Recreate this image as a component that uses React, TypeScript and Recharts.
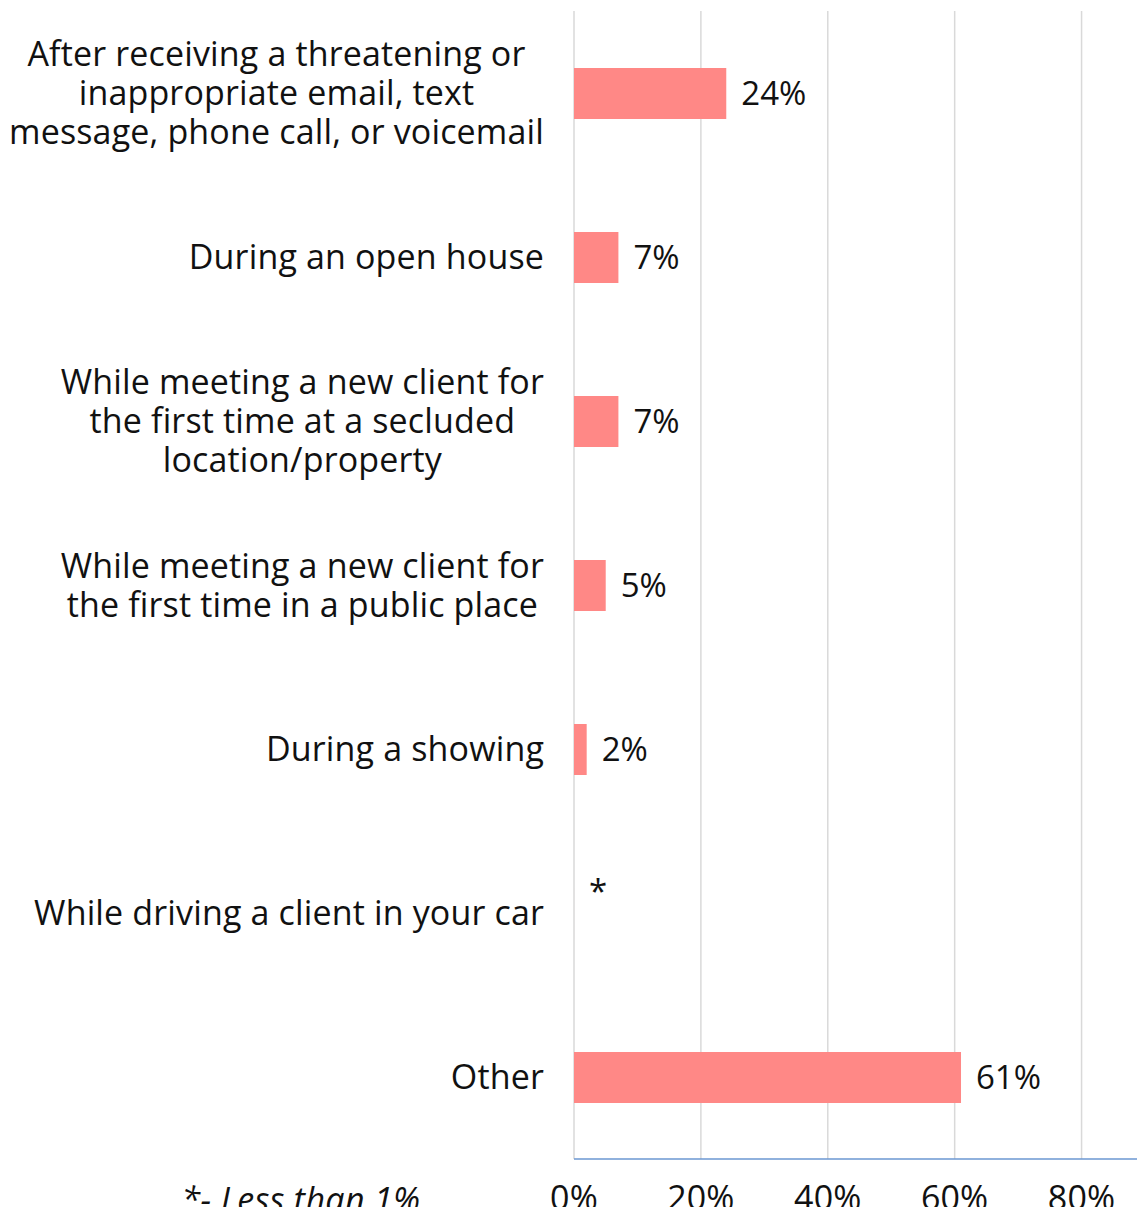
import { BarChart, Bar, XAxis, YAxis, CartesianGrid, LabelList } from 'recharts';

const categories = [
    'After receiving a threatening or\ninappropriate email, text\nmessage, phone call, or voicemail',
    'During an open house',
    'While meeting a new client for\nthe first time at a secluded\nlocation/property',
    'While meeting a new client for\nthe first time in a public place',
    'During a showing',
    'While driving a client in your car',
    'Other',
];
const values = [24, 7, 7, 5, 2, 0, 61];
const valueLabels = ['24%', '7%', '7%', '5%', '2%', '*', '61%'];
const xTicks = [0, 20, 40, 60, 80];

const FONT = '"Open Sans", sans-serif';
const FONT_SIZE = 34;
const SPACING = 0.15;
const BAR_COLOR = '#FF8886';
const TEXT = '#111111';

const chartData = categories.map((name, i) => ({ name, value: values[i], label: valueLabels[i] }));

let ctx: CanvasRenderingContext2D | null = null;
function textWidth(s: string) {
    if (!ctx) {
        ctx = document.createElement('canvas').getContext('2d');
    }
    if (!ctx) return s.length * FONT_SIZE * 0.55;
    ctx.font = `${FONT_SIZE}px "Open Sans"`;
    return ctx.measureText(s).width + s.length * SPACING;
}

// multi-line labels are centred as a block, the block's right edge sits near the axis
function CategoryTick(props: any) {
    const { x, y, payload } = props;
    const lines: string[] = String(payload.value).split('\n');
    const lineHeight = 39;
    const maxW = Math.max(...lines.map(textWidth));
    const cx = Math.max(x - maxW / 2, maxW / 2 + 2);
    const startY = y - ((lines.length - 1) * lineHeight) / 2;
    return (
        <text
            x={cx}
            y={startY}
            textAnchor="middle"
            fontFamily={FONT}
            fontSize={FONT_SIZE}
            letterSpacing={SPACING}
            fill={TEXT}
        >
            {lines.map((line, i) => (
                <tspan key={i} x={cx} y={startY + i * lineHeight} dy="0.36em">
                    {line}
                </tspan>
            ))}
        </text>
    );
}

function PercentTick(props: any) {
    const { x, y, payload } = props;
    return (
        <text x={x} y={y} textAnchor="middle" dy="0.36em" fontFamily={FONT} fontSize={FONT_SIZE} letterSpacing={SPACING} fill={TEXT}>
            {`${payload.value}%`}
        </text>
    );
}

function ValueLabel(props: any) {
    const { x, y, width, height, value } = props;
    // the asterisk sits higher than the other labels
    const shift = value === '*' ? -22 : 0;
    return (
        <text
            x={x + width + 15}
            y={y + height / 2 + shift}
            dy="0.36em"
            fontFamily={FONT}
            fontSize={33}
            fill={TEXT}
        >
            {value}
        </text>
    );
}

export default function App() {
    return (
        <div style={{ position: 'relative', width: 1145, height: 1215, margin: -8, overflow: 'hidden', background: '#fff' }}>
            <BarChart
                width={1145}
                height={1215}
                data={chartData}
                layout="vertical"
                margin={{ top: 11, right: 0, bottom: 0, left: 0 }}
                barCategoryGap={0}
            >
                <CartesianGrid horizontal={false} stroke="#D9D9D9" strokeWidth={1.5} />
                <XAxis
                    type="number"
                    domain={[0, 90]}
                    ticks={xTicks}
                    height={56}
                    tickLine={false}
                    axisLine={{ stroke: '#6B97D2', strokeWidth: 1.5 }}
                    tick={<PercentTick />}
                    tickMargin={33}
                    interval={0}
                />
                <YAxis
                    dataKey="name"
                    type="category"
                    width={574}
                    tickLine={false}
                    axisLine={false}
                    tick={<CategoryTick />}
                    tickMargin={24}
                    interval={0}
                />
                <Bar dataKey="value" fill={BAR_COLOR} barSize={51} minPointSize={0.01} isAnimationActive={false}>
                    <LabelList dataKey="label" content={<ValueLabel />} />
                </Bar>
            </BarChart>
            <div
                style={{
                    position: 'absolute',
                    left: 0,
                    width: 602,
                    top: 1179,
                    textAlign: 'center',
                    fontFamily: FONT,
                    fontStyle: 'italic',
                    fontSize: 34,
                    letterSpacing: 0.35,
                    lineHeight: '40px',
                    color: TEXT,
                }}
            >
                *- Less than 1%
            </div>
        </div>
    );
}
